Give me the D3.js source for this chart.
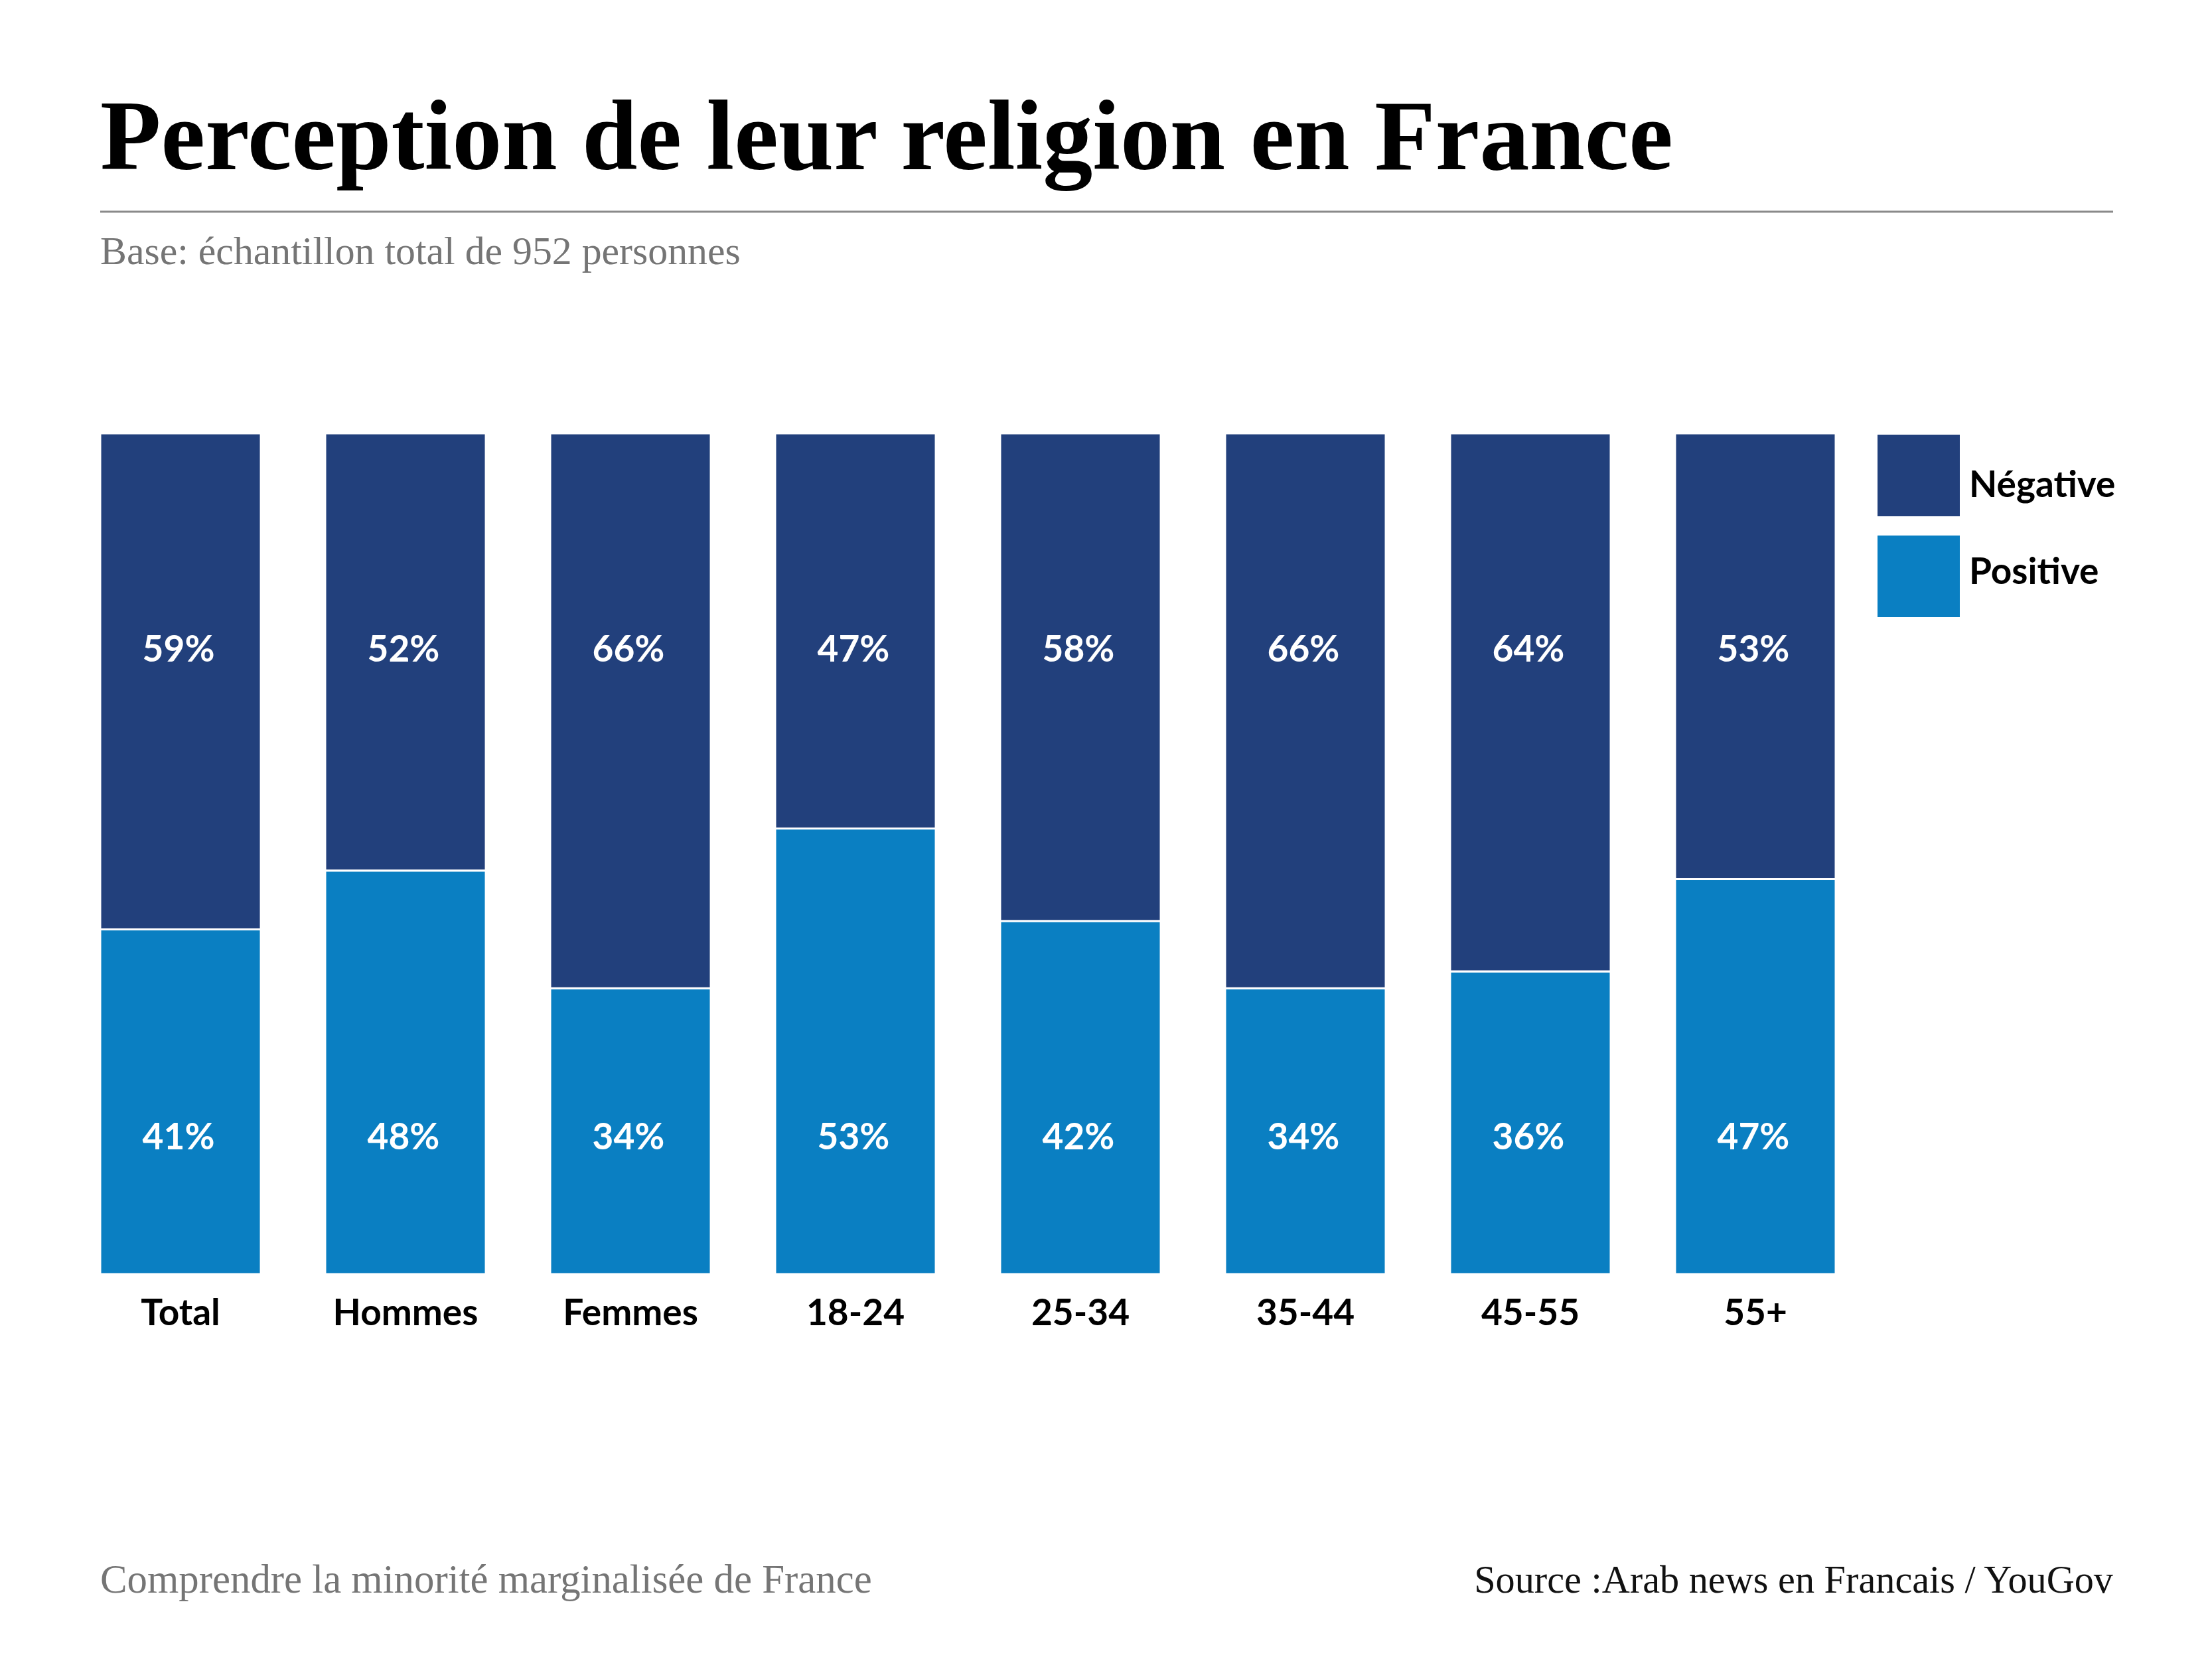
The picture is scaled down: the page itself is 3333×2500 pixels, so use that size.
<!DOCTYPE html>
<html>
<head>
<meta charset="utf-8">
<script src="https://cdn.jsdelivr.net/npm/d3@7"></script>
<style>
  html, body { margin: 0; padding: 0; background: #ffffff; }
  svg { display: block; }
</style>
</head>
<body>
<svg id="chart" width="3333" height="2500"></svg>
<script>
// ---- Data ----
const categories = ["Total", "Hommes", "Femmes", "18-24", "25-34", "35-44", "45-55", "55+"];
const negative = [59, 52, 66, 47, 58, 66, 64, 53];
const positive = [41, 48, 34, 53, 42, 34, 36, 47];
const seriesKeys = ["positive", "negative"];
const seriesLabels = ["Négative", "Positive"];

const titleText = "Perception de leur religion en France";
const subtitleText = "Base: échantillon total de 952 personnes";
const footLeft = "Comprendre la minorité marginalisée de France";
const footRight = "Source :Arab news en Francais / YouGov";

// ---- Style ----
const W = 3333, H = 2500;
const colors = { negative: "#22407C", positive: "#0A7FC2" };
const serif = "'Liberation Serif', 'DejaVu Serif', serif";
const sans = "Lato, 'Noto Sans', sans-serif";

const svg = d3.select("#chart");
svg.append("rect").attr("width", W).attr("height", H).attr("fill", "#fff");

function fitText(sel, targetWidth, baseSize) {
  sel.attr("font-size", baseSize);
  const w = sel.node().getComputedTextLength();
  sel.attr("font-size", baseSize * targetWidth / w);
}

// Title
const title = svg.append("text")
  .attr("x", 151).attr("y", 255)
  .attr("font-family", serif).attr("font-weight", 700)
  .attr("fill", "#000").text(titleText);
fitText(title, 2370, 140);

// Rule
svg.append("line")
  .attr("x1", 151).attr("x2", 3184).attr("y1", 319).attr("y2", 319)
  .attr("stroke", "#8a8a8a").attr("stroke-width", 3);

// Subtitle
const sub = svg.append("text")
  .attr("x", 151).attr("y", 398)
  .attr("font-family", serif).attr("fill", "#757575").text(subtitleText);
fitText(sub, 965, 52);

// ---- Scales ----
const x = d3.scaleBand().domain(categories).range([151, 2766]).paddingInner(0.286).paddingOuter(0);
const y = d3.scaleLinear().domain([0, 100]).range([1920, 653]);

const rows = categories.map((c, i) => ({ cat: c, positive: positive[i], negative: negative[i] }));
const stacked = d3.stack().keys(seriesKeys)(rows);

const g = svg.append("g");
g.selectAll("g.series").data(stacked).join("g")
  .attr("class", "series")
  .attr("fill", d => colors[d.key])
  .selectAll("rect").data(d => d).join("rect")
  .attr("x", d => x(d.data.cat))
  .attr("width", x.bandwidth())
  .attr("y", d => y(d[1]))
  .attr("height", d => y(d[0]) - y(d[1]))
  .attr("stroke", "#fff").attr("stroke-width", 3);

// Value labels (fixed vertical positions as in the reference)
const labelYNeg = 978, labelYPos = 1713;
const labelsG = svg.append("g")
  .attr("font-family", sans).attr("font-weight", 700)
  .attr("font-size", 55).attr("fill", "#fff").attr("text-anchor", "middle");
labelsG.selectAll("text.neg").data(rows).join("text")
  .attr("class", "neg")
  .attr("x", d => x(d.cat) + x.bandwidth() / 2 - 3)
  .attr("y", labelYNeg).attr("dy", "0.35em")
  .text(d => d.negative + "%");
labelsG.selectAll("text.pos").data(rows).join("text")
  .attr("class", "pos")
  .attr("x", d => x(d.cat) + x.bandwidth() / 2 - 3)
  .attr("y", labelYPos).attr("dy", "0.35em")
  .text(d => d.positive + "%");

// X axis labels
const xAxis = d3.axisBottom(x).tickSize(0).tickPadding(0);
const ax = svg.append("g").attr("transform", `translate(0,${1920})`).call(xAxis);
ax.select(".domain").remove();
ax.selectAll("text")
  .attr("font-family", sans).attr("font-weight", 700).attr("font-size", 55)
  .attr("fill", "#000").attr("dy", null).attr("y", 77);

// Legend
const legendItems = [
  { label: seriesLabels[0], color: colors.negative, y: 655, base: 749 },
  { label: seriesLabels[1], color: colors.positive, y: 807, base: 880 }
];
const lg = svg.append("g");
lg.selectAll("rect").data(legendItems).join("rect")
  .attr("x", 2829).attr("y", d => d.y).attr("width", 124).attr("height", 123)
  .attr("fill", d => d.color);
lg.selectAll("text").data(legendItems).join("text")
  .attr("x", 2967).attr("y", d => d.base)
  .attr("font-family", sans).attr("font-weight", 700).attr("font-size", 55)
  .attr("fill", "#000").text(d => d.label);

// Footer
const fl = svg.append("text")
  .attr("x", 151).attr("y", 2400)
  .attr("font-family", serif).attr("fill", "#757575").text(footLeft);
fitText(fl, 1163, 52);
const fr = svg.append("text")
  .attr("x", 3184).attr("y", 2400).attr("text-anchor", "end")
  .attr("font-family", serif).attr("fill", "#111").text(footRight);
fitText(fr, 963, 52);
</script>
</body>
</html>
